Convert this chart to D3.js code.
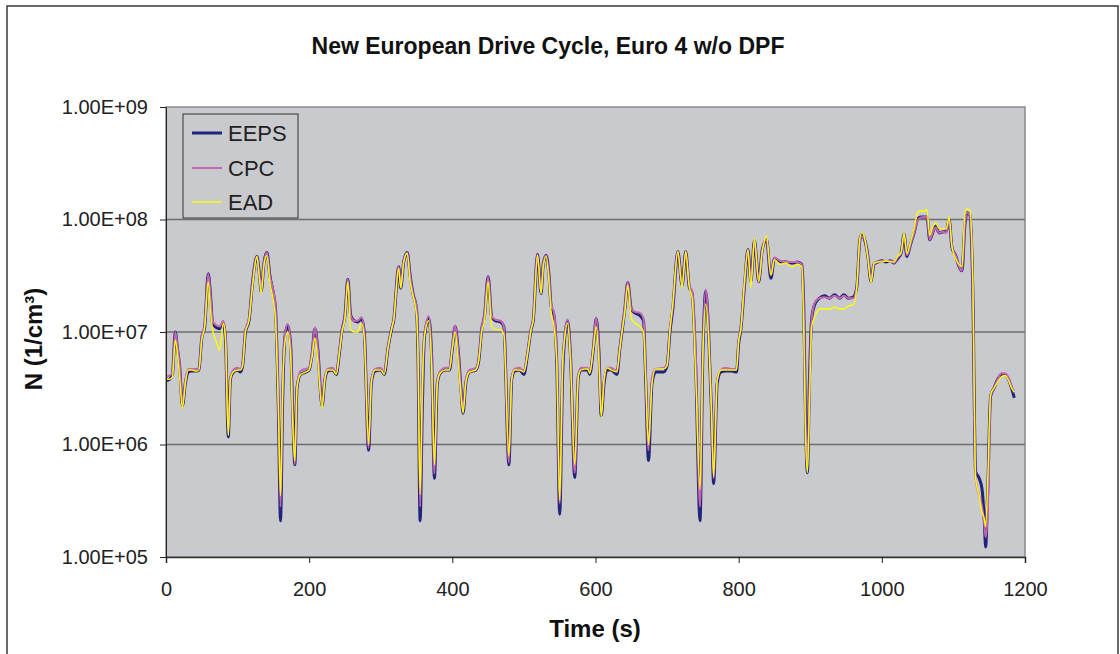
<!DOCTYPE html>
<html><head><meta charset="utf-8">
<script src="https://cdn.jsdelivr.net/npm/d3@7"></script>
<style>
html,body{margin:0;padding:0;background:#fff;}
svg{display:block;font-family:"Liberation Sans",Arial,sans-serif;}
</style></head>
<body><svg id="chart" width="1120" height="654"></svg>
<script>
const title = "New European Drive Cycle, Euro 4 w/o DPF";
const xTitle = "Time (s)";
const yTitle = "N (1/cm³)";
const seriesNames = ["EEPS", "CPC", "EAD"];
const seriesColors = ["#22237a", "#c766b0", "#ffff00"];
const yTickValues = [1e5, 1e6, 1e7, 1e8, 1e9];
const yTickLabels = ["1.00E+05", "1.00E+06", "1.00E+07", "1.00E+08", "1.00E+09"];
const xTickValues = [0, 200, 400, 600, 800, 1000, 1200];

const time = [0,5,9,13,16,19,23,27,31,36,42,46,50,54,59,62,65,70,75,80,83,87,90,94,100,104,107,111,116,121,127,130,133,137,141,145,150,153,157,160,163,166,170,174,177,180,183,188,195,
200,204,208,212,218,222,226,233,238,242,246,250,254,258,263,268,273,277,283,287,292,300,305,310,315,318,325,328,332,337,341,345,350,352,355,358,361,367,371,375,379,383,390,396,400,404,408,412,415,419,424,433,437,441,445,450,455,460,467,472,479,
483,487,494,500,505,510,513,519,524,527,531,535,538,542,546,550,554,557,561,565,571,576,580,589,592,597,601,605,608,612,616,622,630,634,637,641,645,650,655,662,667,670,674,679,684,695,700,704,708,715,721,726,731,735,740,746,750,754,758,762,765,770,775,782,790,797,800,803,
808,813,817,822,828,833,839,845,850,858,866,875,882,888,891,893,896,899,902,907,913,920,927,934,941,947,953,960,965,969,972,975,980,985,989,995,1000,1006,1012,1017,1022,1027,1031,1035,1040,1045,1050,1054,1058,1063,1067,1071,1075,1080,1086,1090,1094,1098,1103,1108,1112,1116,1119,1123,1127,1131,1136,1140,1143,1145,1148,1152,1157,1162,1167,1172,1177,1181,1185];

const eeps = [3.7e6,3.8e6,4.2e6,1.0e7,7.1e6,5.0e6,2.2e6,3.5e6,4.4e6,4.5e6,4.5e6,4.6e6,8.9e6,1.1e7,3.3e7,2.2e7,1.2e7,1.1e7,1.07e7,1.2e7,8.9e6,1.17e6,3.8e6,4.4e6,4.6e6,4.4e6,5.0e6,1.0e7,1.26e7,2.8e7,4.7e7,3.5e7,2.3e7,4.2e7,5.1e7,3.2e7,2.2e7,1.6e7,2.0e6,2.1e5,2.5e6,8.9e6,1.15e7,7.9e6,2.0e6,6.6e5,3.2e6,4.2e6,4.4e6,
4.6e6,6.3e6,1.07e7,7.1e6,2.2e6,3.8e6,4.5e6,4.6e6,4.2e6,6.3e6,1.05e7,1.4e7,2.95e7,1.4e7,1.26e7,1.23e7,1.32e7,1.0e7,8.9e5,3.6e6,4.5e6,4.6e6,4.2e6,7.1e6,1.05e7,1.26e7,3.8e7,2.45e7,4.2e7,5.1e7,3.2e7,2.2e7,1.6e7,6.3e6,2.1e5,2.0e6,8.9e6,1.32e7,6.3e6,5.0e5,3.5e6,4.3e6,4.6e6,4.6e6,7.1e6,1.12e7,7.1e6,3.2e6,1.9e6,3.6e6,4.4e6,4.6e6,5.6e6,1.05e7,1.4e7,3.1e7,1.35e7,1.26e7,1.23e7,1.12e7,6.6e5,
3.8e6,4.5e6,4.6e6,4.2e6,6.3e6,1.05e7,1.26e7,4.9e7,2.2e7,4.0e7,4.8e7,3.2e7,1.7e7,1.4e7,5.0e6,2.4e5,4.0e6,8.9e6,1.26e7,6.3e6,5.1e5,4.0e6,4.6e6,4.6e6,4.2e6,7.1e6,1.32e7,6.3e6,1.8e6,3.5e6,4.6e6,4.6e6,4.2e6,7.1e6,1.0e7,1.6e7,2.75e7,1.6e7,1.48e7,1.4e7,1.26e7,4.0e6,7.2e5,3.5e6,4.4e6,4.4e6,5.0e6,1.0e7,1.6e7,5.2e7,2.6e7,5.2e7,2.5e7,2.2e7,5.0e6,2.1e5,6.3e6,2.3e7,1.0e7,2.0e6,4.5e5,3.5e6,4.4e6,4.5e6,4.5e6,4.4e6,7.9e6,1.05e7,
2.5e7,5.4e7,2.8e7,6.5e7,2.8e7,5.4e7,6.6e7,3.0e7,4.5e7,4.2e7,4.2e7,4.1e7,4.2e7,4.0e7,1.6e7,2.5e6,5.6e5,4.0e6,1.32e7,1.8e7,2.0e7,2.1e7,2.0e7,2.14e7,2.0e7,2.14e7,2.0e7,2.04e7,2.5e7,6.3e7,7.4e7,6.9e7,5.0e7,2.8e7,4.0e7,4.2e7,4.3e7,4.2e7,4.3e7,4.1e7,4.5e7,5.0e7,7.4e7,4.7e7,6.0e7,7.6e7,1.0e8,1.05e8,1.05e8,1.05e8,6.6e7,7.6e7,8.7e7,7.6e7,7.8e7,7.8e7,1.0e8,5.6e7,4.8e7,3.8e7,3.5e7,8.9e7,1.15e8,1.1e8,2.5e7,5.75e5,5.0e5,4.0e5,2.2e5,1.23e5,4.0e5,2.7e6,3.2e6,3.8e6,4.2e6,4.2e6,3.8e6,3.2e6,2.6e6];

const cpc = [4.0e6,4.1e6,4.4e6,1.0e7,7.4e6,5.2e6,2.3e6,3.7e6,4.7e6,4.7e6,4.7e6,4.8e6,9.3e6,1.15e7,3.3e7,2.2e7,1.26e7,1.15e7,1.12e7,1.26e7,9.3e6,1.23e6,4.0e6,4.6e6,4.8e6,4.7e6,5.2e6,1.05e7,1.32e7,2.8e7,4.7e7,3.5e7,2.5e7,4.2e7,5.1e7,3.2e7,2.3e7,1.66e7,2.5e6,2.8e5,2.8e6,9.3e6,1.17e7,7.9e6,2.0e6,6.6e5,3.3e6,4.5e6,4.7e6,
4.8e6,6.6e6,1.1e7,7.2e6,2.3e6,4.0e6,4.7e6,4.8e6,4.3e6,6.6e6,1.07e7,1.4e7,2.95e7,1.4e7,1.26e7,1.26e7,1.35e7,1.0e7,9.3e5,3.8e6,4.7e6,4.8e6,4.4e6,7.2e6,1.07e7,1.29e7,3.8e7,2.5e7,4.2e7,5.1e7,3.2e7,2.2e7,1.66e7,7.1e6,2.8e5,2.5e6,9.5e6,1.38e7,6.3e6,5.5e5,3.7e6,4.5e6,4.8e6,4.8e6,7.4e6,1.15e7,7.1e6,3.2e6,2.0e6,3.8e6,4.6e6,4.8e6,5.9e6,1.07e7,1.45e7,3.1e7,1.38e7,1.29e7,1.26e7,1.12e7,6.9e5,
4.0e6,4.7e6,4.8e6,4.5e6,6.6e6,1.07e7,1.29e7,4.9e7,2.2e7,4.0e7,4.8e7,3.2e7,1.78e7,1.48e7,5.6e6,3.0e5,4.5e6,9.3e6,1.29e7,6.6e6,5.6e5,4.2e6,4.8e6,4.8e6,4.4e6,7.4e6,1.35e7,6.3e6,1.9e6,3.7e6,4.8e6,4.8e6,4.5e6,7.2e6,1.02e7,1.66e7,2.8e7,1.6e7,1.51e7,1.48e7,1.32e7,4.5e6,8.9e5,4.0e6,4.7e6,4.8e6,5.2e6,1.05e7,1.66e7,5.2e7,2.6e7,5.2e7,2.6e7,2.3e7,6.3e6,2.8e5,7.1e6,2.4e7,1.05e7,2.0e6,5.0e5,3.8e6,4.6e6,4.8e6,4.7e6,4.7e6,8.3e6,1.07e7,
2.5e7,5.4e7,2.8e7,6.5e7,2.8e7,5.4e7,6.6e7,3.2e7,4.6e7,4.3e7,4.2e7,4.2e7,4.2e7,4.0e7,1.6e7,2.5e6,5.9e5,3.5e6,1.32e7,1.86e7,2.0e7,2.04e7,2.0e7,2.1e7,2.0e7,2.1e7,2.0e7,2.0e7,2.5e7,6.0e7,7.1e7,6.9e7,5.0e7,2.9e7,4.0e7,4.2e7,4.3e7,4.3e7,4.3e7,4.1e7,4.6e7,5.0e7,7.4e7,4.8e7,6.0e7,7.6e7,9.8e7,1.04e8,1.05e8,1.05e8,6.6e7,7.6e7,8.5e7,7.6e7,7.8e7,7.6e7,1.0e8,5.6e7,4.8e7,3.8e7,3.5e7,8.9e7,1.15e8,1.1e8,2.5e7,5.0e5,3.5e5,2.8e5,2.0e5,1.5e5,2.5e5,2.7e6,3.2e6,3.8e6,4.3e6,4.3e6,3.9e6,3.3e6,3.0e6];

const ead = [3.8e6,3.8e6,4.0e6,8.5e6,6.3e6,4.0e6,2.1e6,3.5e6,4.6e6,4.6e6,4.5e6,4.6e6,8.5e6,1.1e7,2.8e7,1.6e7,1.05e7,8.3e6,6.9e6,1.2e7,8.9e6,1.2e6,3.8e6,4.4e6,4.6e6,4.6e6,5.0e6,1.0e7,1.26e7,2.6e7,4.7e7,3.2e7,2.2e7,4.0e7,4.8e7,2.8e7,1.9e7,1.26e7,2.0e6,3.5e5,3.2e6,7.9e6,1.0e7,6.3e6,1.6e6,7.1e5,3.2e6,4.2e6,4.4e6,
4.6e6,6.0e6,8.9e6,5.6e6,2.1e6,3.8e6,4.6e6,4.6e6,4.2e6,6.3e6,1.0e7,1.32e7,2.8e7,1.05e7,1.0e7,1.0e7,1.2e7,8.9e6,1.0e6,3.6e6,4.6e6,4.6e6,4.2e6,7.1e6,1.05e7,1.26e7,3.7e7,2.45e7,4.2e7,5.0e7,2.8e7,2.1e7,1.4e7,6.3e6,3.6e5,3.2e6,8.9e6,1.26e7,5.0e6,6.6e5,3.5e6,4.3e6,4.6e6,4.6e6,7.1e6,1.0e7,5.6e6,2.8e6,1.9e6,3.6e6,4.4e6,4.6e6,5.6e6,1.0e7,1.26e7,2.8e7,1.12e7,1.05e7,1.05e7,9.5e6,7.9e5,
3.8e6,4.6e6,4.6e6,4.4e6,6.3e6,1.05e7,1.26e7,4.8e7,2.2e7,3.8e7,4.7e7,2.8e7,1.5e7,1.12e7,5.0e6,3.2e5,5.0e6,8.9e6,1.2e7,5.6e6,6.6e5,4.0e6,4.6e6,4.7e6,4.3e6,7.1e6,1.12e7,5.0e6,1.74e6,3.8e6,4.8e6,4.6e6,4.4e6,7.1e6,1.0e7,1.5e7,2.6e7,1.32e7,1.2e7,1.12e7,1.0e7,4.0e6,1.0e6,3.5e6,4.7e6,4.7e6,5.0e6,1.05e7,1.78e7,5.2e7,2.5e7,5.2e7,2.5e7,2.0e7,4.0e6,4.0e5,6.3e6,1.78e7,8.9e6,2.0e6,5.2e5,3.7e6,4.6e6,4.6e6,4.6e6,4.6e6,8.3e6,1.05e7,
2.8e7,5.4e7,2.5e7,6.8e7,2.8e7,5.2e7,7.1e7,3.2e7,4.4e7,4.0e7,4.1e7,3.8e7,4.0e7,3.8e7,1.0e7,1.6e6,5.6e5,2.5e6,1.12e7,1.4e7,1.6e7,1.6e7,1.6e7,1.66e7,1.6e7,1.6e7,1.7e7,1.74e7,2.5e7,6.6e7,7.6e7,7.2e7,4.8e7,2.75e7,4.1e7,4.2e7,4.2e7,4.3e7,4.2e7,4.2e7,4.7e7,5.1e7,7.6e7,5.0e7,6.3e7,8.3e7,1.15e8,1.2e8,1.18e8,1.22e8,7.2e7,8.5e7,9.3e7,8.3e7,8.3e7,8.3e7,1.05e8,5.75e7,4.5e7,4.0e7,3.8e7,1.12e8,1.25e8,1.2e8,3.2e7,5.0e5,3.5e5,2.5e5,2.2e5,1.86e5,5.0e5,2.8e6,3.2e6,3.6e6,4.0e6,4.1e6,3.7e6,3.2e6,2.9e6];

const seriesValues = [eeps, cpc, ead];
const seriesWidths = [3, 2, 1.4];

const svg = d3.select("#chart");
const m = {left: 166, right: 1025, top: 107, bottom: 557};

// outer frame
svg.append("rect").attr("x", 7).attr("y", 6).attr("width", 1111).attr("height", 700)
  .attr("fill", "#fff").attr("stroke", "#3a3a3a").attr("stroke-width", 1.5);

const x = d3.scaleLinear().domain([0, 1200]).range([m.left, m.right]);
const y = d3.scaleLog().domain([1e5, 1e9]).range([m.bottom, m.top]);

// plot background
svg.append("rect").attr("x", m.left).attr("y", m.top)
  .attr("width", m.right - m.left).attr("height", m.bottom - m.top)
  .attr("fill", "#c9cacd").attr("stroke", "#8a8a8a").attr("stroke-width", 1.5);

// gridlines
svg.append("g").selectAll("line").data(yTickValues.slice(1, 4)).join("line")
  .attr("x1", m.left).attr("x2", m.right)
  .attr("y1", d => y(d)).attr("y2", d => y(d))
  .attr("stroke", "#6e6e6e").attr("stroke-width", 1.5);

// title
svg.append("text").attr("x", 548).attr("y", 54).attr("text-anchor", "middle")
  .attr("font-size", 23).attr("font-weight", "bold").attr("fill", "#111").text(title);

// series
const line = d3.line().x((d, i) => x(time[i])).y(d => y(d)).curve(d3.curveMonotoneX);
const gLines = svg.append("g");
seriesValues.forEach((vals, k) => {
  gLines.append("path").datum(vals).attr("d", line)
    .attr("fill", "none").attr("stroke", seriesColors[k])
    .attr("stroke-width", seriesWidths[k]).attr("stroke-linejoin", "round");
});

// axes
const yAxis = d3.axisLeft(y).tickValues(yTickValues)
  .tickFormat((d, i) => yTickLabels[i]).tickSize(6).tickPadding(12);
const gy = svg.append("g").attr("transform", `translate(${m.left},0)`).call(yAxis);
gy.select(".domain").attr("stroke", "#222").attr("stroke-width", 1);
gy.selectAll(".tick line").attr("stroke", "#222");
gy.selectAll("text").attr("font-size", 20).attr("fill", "#222")
  .attr("font-family", "Liberation Sans, Arial, sans-serif");

const xAxis = d3.axisBottom(x).tickValues(xTickValues).tickFormat(d3.format("d"))
  .tickSize(6).tickPadding(19);
const gx = svg.append("g").attr("transform", `translate(0,${m.bottom})`).call(xAxis);
gx.select(".domain").attr("stroke", "#333").attr("stroke-width", 1.5);
gx.selectAll(".tick line").attr("stroke", "#222");
gx.selectAll("text").attr("font-size", 20).attr("fill", "#222")
  .attr("font-family", "Liberation Sans, Arial, sans-serif");

// axis titles
svg.append("text").attr("x", 595).attr("y", 637).attr("text-anchor", "middle")
  .attr("font-size", 24).attr("font-weight", "bold").attr("fill", "#111").text(xTitle);
svg.append("text").attr("transform", "translate(42,339) rotate(-90)")
  .attr("text-anchor", "middle").attr("font-size", 24).attr("font-weight", "bold")
  .attr("fill", "#111").text(yTitle);

// legend
const lg = svg.append("g");
lg.append("rect").attr("x", 183).attr("y", 114).attr("width", 115).attr("height", 104)
  .attr("fill", "#c9cacd").attr("stroke", "#333").attr("stroke-width", 1);
const legendY = [133, 168, 202];
seriesNames.forEach((name, k) => {
  lg.append("line").attr("x1", 192).attr("x2", 222)
    .attr("y1", legendY[k]).attr("y2", legendY[k])
    .attr("stroke", seriesColors[k]).attr("stroke-width", seriesWidths[k]);
  lg.append("text").attr("x", 228).attr("y", legendY[k]).attr("dy", "0.36em")
    .attr("font-size", 22).attr("fill", "#222").text(name);
});
</script></body></html>
